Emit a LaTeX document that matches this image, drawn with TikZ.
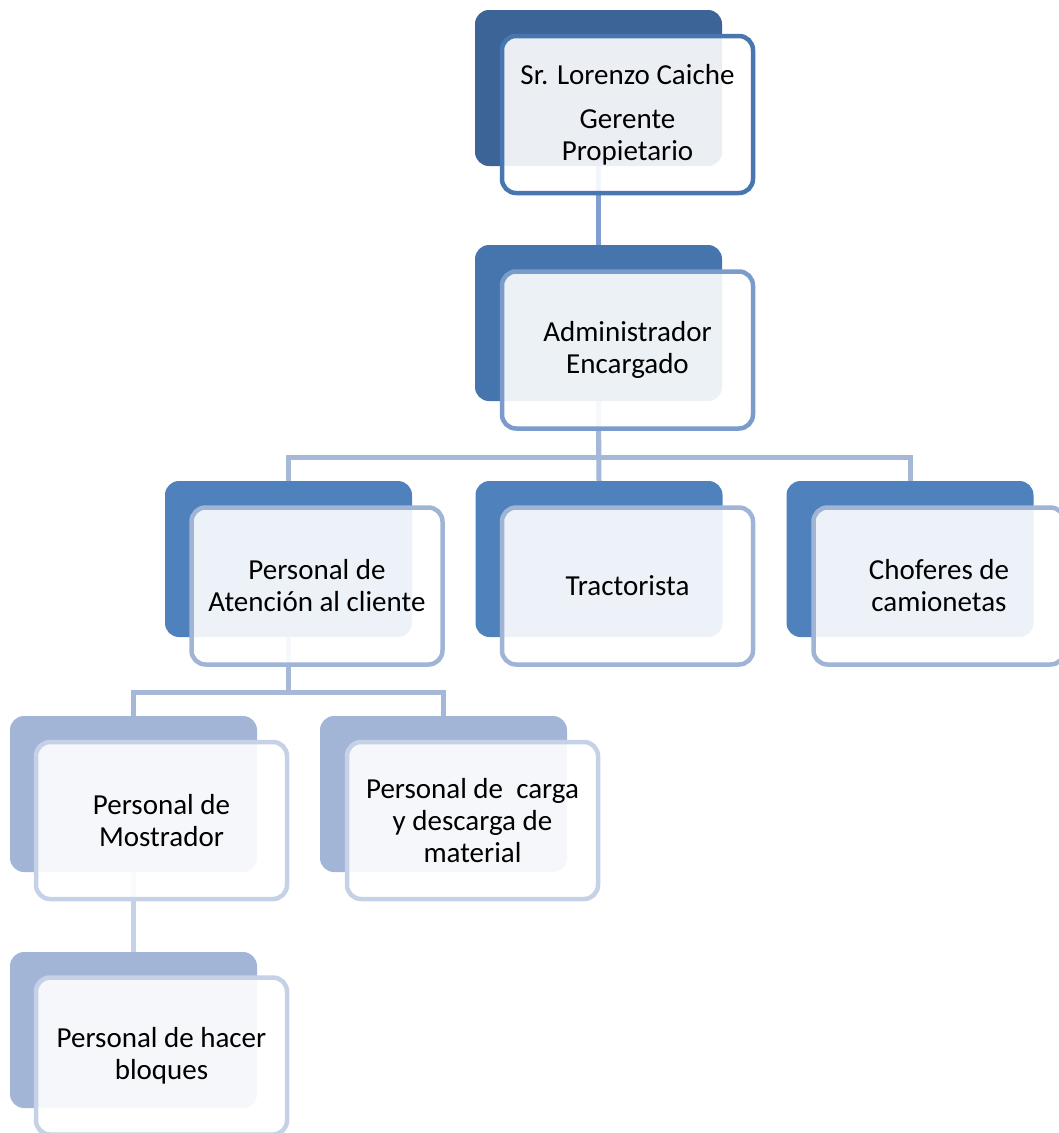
\documentclass[tikz,border=0pt]{standalone}
\usepackage{fontspec}
\setmainfont{Carlito}
\usetikzlibrary{calc}
\definecolor{nivelA}{HTML}{3D6497}
\definecolor{bordeA}{HTML}{4877B0}
\definecolor{nivelB}{HTML}{4674AD}
\definecolor{bordeB}{HTML}{7B9BCB}
\definecolor{nivelC}{HTML}{4F81BD}
\definecolor{bordeC}{HTML}{A0B4D6}
\definecolor{nivelD}{HTML}{A3B5D6}
\definecolor{bordeD}{HTML}{C5D1E6}
\definecolor{lineaA}{HTML}{7F9DCE}
\definecolor{lineaB}{HTML}{A5B8D8}
\definecolor{lineaC}{HTML}{C5D1E6}

\begin{document}
\begin{tikzpicture}[x=1pt,y=-1pt,
    fondo/.style={rectangle,rounded corners=14pt,minimum width=247pt,minimum height=156pt,inner sep=0pt},
    caja/.style={rectangle,rounded corners=14pt,line width=4.5pt,fill=white,fill opacity=0.9,text opacity=1,minimum width=251pt,minimum height=157pt,align=center,font=\fontsize{29}{32}\selectfont},
    linea/.style={line width=5pt}]
          \fill[white] (0,0) rectangle (1059,1133);
          \useasboundingbox (0,0) rectangle (1059,1133);
          % cajas de fondo
          \node[fondo,fill=nivelA] (gerente-b) at (598.5,88) {};
          \node[fondo,fill=nivelB] (admin-b) at (598.5,323) {};
          \node[fondo,fill=nivelC] (atencion-b) at (288.5,559) {};
          \node[fondo,fill=nivelC] (tractor-b) at (599,559) {};
          \node[fondo,fill=nivelC] (chofer-b) at (910,559) {};
          \node[fondo,fill=nivelD] (mostrador-b) at (133.5,794) {};
          \node[fondo,fill=nivelD] (carga-b) at (443.5,794) {};
          \node[fondo,fill=nivelD] (bloques-b) at (133.5,1030) {};
          % lineas
          \draw[linea,lineaA] (gerente-b.south)--(admin-b.north);
          \draw[linea,lineaB] (admin-b.south)--++(0,56)-|(atencion-b.north);
          \draw[linea,lineaB] (admin-b.south)--(tractor-b.north);
          \draw[linea,lineaB] (admin-b.south)--++(0,56)-|(chofer-b.north);
          \draw[linea,lineaB] (atencion-b.south)--++(0,55)-|(mostrador-b.north);
          \draw[linea,lineaB] (atencion-b.south)--++(0,55)-|(carga-b.north);
          \draw[linea,lineaC] (mostrador-b.south)--(bloques-b.north);
          % cajas
          \node[caja,draw=bordeA] (gerente) at (627.5,114.5) {Sr. Lorenzo Caiche\\[12pt]Gerente\\Propietario};
          \node[caja,draw=bordeB] (admin) at (627.5,350) {Administrador\\Encargado};
          \node[caja,draw=bordeC] (atencion) at (317,586) {Personal de\\Atención al cliente};
          \node[caja,draw=bordeC] (tractor) at (627.5,586) {Tractorista};
          \node[caja,draw=bordeC] (chofer) at (939,586) {Choferes de\\camionetas};
          \node[caja,draw=bordeD] (mostrador) at (161.5,820.5) {Personal de\\Mostrador};
          \node[caja,draw=bordeD] (carga) at (472.5,820.5) {Personal de\ \ carga\\y descarga de\\material};
          \node[caja,draw=bordeD] (bloques) at (161.5,1056) {Personal de hacer\\bloques};
        \end{tikzpicture}
\end{document}
